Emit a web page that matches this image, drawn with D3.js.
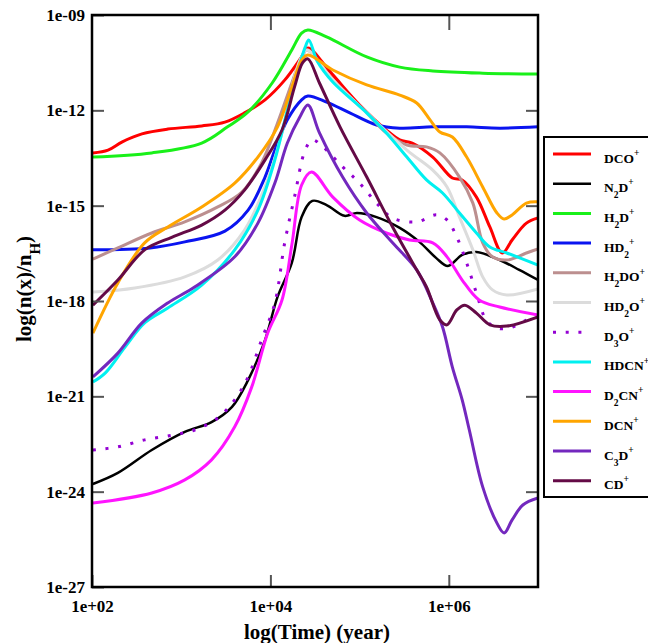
<!DOCTYPE html>
<html lang="en">
<head>
<meta charset="UTF-8">
<title>Deuterated ions vs time</title>
<style>
  body { margin: 0; background: #fff; }
  svg { display: block; font-family: "Liberation Serif", "Times New Roman", serif; font-weight: bold; }
</style>
</head>
<body>
<svg width="648" height="643"></svg>
<script src="https://cdn.jsdelivr.net/npm/d3@7"></script>
<script>
// every point is [log10(time / yr), log10(n(x)/nH)]
const DCO = [[2.01,-13.34],[2.18,-13.25],[2.34,-12.99],[2.56,-12.74],[2.85,-12.59],[3.23,-12.49],[3.49,-12.37],
  [3.71,-12.08],[3.94,-11.67],[4.16,-11.05],[4.35,-10.32],[4.42,-10.04],[4.67,-10.79],[5.00,-11.83],[5.30,-12.62],
  [5.45,-12.93],[5.59,-13.03],[5.82,-13.47],[6.04,-14.13],[6.15,-14.19],[6.31,-14.73],[6.46,-15.67],[6.60,-16.49],
  [6.71,-16.08],[6.87,-15.55],[7.00,-15.39]];
const N2D = [[2.01,-23.76],[2.29,-23.41],[2.67,-22.69],[3.04,-22.12],[3.34,-21.81],[3.57,-21.33],[3.75,-20.49],
  [3.94,-19.23],[4.08,-17.87],[4.24,-16.80],[4.35,-15.36],[4.47,-14.85],[4.63,-14.98],[4.83,-15.32],[4.97,-15.23],
  [5.19,-15.36],[5.45,-15.70],[5.67,-16.14],[5.86,-16.65],[5.99,-16.90],[6.15,-16.55],[6.31,-16.46],[6.57,-16.71],
  [6.79,-17.02],[7.00,-17.34]];
const H2D = [[2.01,-13.47],[2.67,-13.34],[3.23,-13.03],[3.52,-12.52],[3.75,-12.05],[4.02,-11.14],[4.24,-10.10],
  [4.35,-9.57],[4.42,-9.47],[4.63,-9.69],[5.08,-10.32],[5.45,-10.64],[5.82,-10.76],[6.38,-10.83],[7.00,-10.86]];
const HD2 = [[2.01,-16.39],[2.65,-16.33],[3.04,-16.14],[3.49,-15.80],[3.75,-15.14],[3.94,-14.10],[4.05,-13.25],
  [4.19,-12.30],[4.35,-11.67],[4.42,-11.55],[4.63,-11.74],[4.89,-12.08],[5.19,-12.46],[5.45,-12.56],[5.82,-12.52],
  [6.20,-12.52],[6.57,-12.56],[7.00,-12.52]];
const H2DO = [[2.01,-16.68],[2.29,-16.33],[2.67,-15.86],[3.04,-15.51],[3.41,-15.04],[3.68,-14.57],[3.90,-13.66],
  [4.08,-12.40],[4.24,-11.14],[4.35,-10.32],[4.41,-10.10],[4.70,-11.05],[5.08,-12.08],[5.30,-12.71],[5.53,-13.09],
  [5.75,-13.15],[5.90,-13.34],[6.12,-14.10],[6.27,-14.92],[6.38,-16.17],[6.49,-16.61],[6.65,-16.71],[6.87,-16.49],
  [7.00,-16.36]];
const HD2O = [[2.01,-17.72],[2.48,-17.59],[3.04,-17.24],[3.41,-16.71],[3.71,-15.77],[3.94,-14.41],[4.13,-12.71],
  [4.27,-10.95],[4.35,-10.32],[4.41,-10.10],[4.70,-11.05],[5.08,-12.08],[5.53,-13.25],[5.82,-13.88],[5.98,-14.41],
  [6.12,-15.36],[6.27,-16.39],[6.38,-17.24],[6.49,-17.65],[6.65,-17.81],[7.00,-17.62]];
const D3O = [[2.01,-22.69],[2.29,-22.59],[2.59,-22.37],[2.90,-22.22],[3.15,-22.06],[3.41,-21.68],[3.60,-21.11],
  [3.75,-20.39],[3.90,-19.23],[4.05,-18.06],[4.16,-16.17],[4.27,-14.73],[4.39,-13.25],[4.47,-12.93],[4.59,-13.15],
  [4.81,-13.78],[5.00,-14.29],[5.19,-14.92],[5.37,-15.39],[5.64,-15.51],[5.86,-15.29],[5.98,-15.45],[6.09,-15.99],
  [6.20,-16.80],[6.31,-17.75],[6.42,-18.60],[6.54,-18.85],[6.68,-18.85],[6.87,-18.60],[7.00,-18.44]];
const HDCN = [[2.01,-20.55],[2.15,-20.26],[2.37,-19.45],[2.59,-18.69],[2.85,-18.22],[3.23,-17.50],[3.60,-16.39],
  [3.86,-15.14],[4.05,-13.56],[4.19,-11.99],[4.31,-10.73],[4.39,-10.01],[4.43,-9.79],[4.53,-10.48],[4.70,-11.11],
  [5.08,-12.08],[5.30,-12.71],[5.53,-13.47],[5.75,-14.19],[5.93,-14.60],[6.12,-15.23],[6.31,-15.86],[6.46,-16.30],
  [6.65,-16.49],[7.00,-16.87]];
const D2CN = [[2.01,-24.36],[2.67,-24.04],[3.04,-23.63],[3.34,-23.00],[3.60,-21.96],[3.79,-20.71],[3.97,-19.01],
  [4.13,-17.97],[4.24,-16.24],[4.35,-14.35],[4.46,-13.94],[4.70,-14.73],[5.00,-15.45],[5.30,-15.86],[5.56,-16.08],
  [5.82,-16.17],[5.98,-16.61],[6.15,-17.34],[6.34,-17.97],[6.57,-18.19],[7.00,-18.44]];
const DCN = [[2.01,-19.01],[2.29,-17.43],[2.59,-16.17],[2.85,-15.67],[3.23,-15.04],[3.60,-14.29],[3.86,-13.47],
  [4.08,-12.52],[4.24,-11.27],[4.35,-10.42],[4.42,-10.26],[4.70,-10.73],[5.08,-11.20],[5.45,-11.52],[5.64,-11.77],
  [5.79,-12.30],[5.90,-12.68],[6.04,-12.84],[6.20,-13.47],[6.38,-14.41],[6.54,-15.23],[6.62,-15.42],[6.71,-15.29],
  [6.87,-14.92],[7.00,-14.88]];
const C3D = [[2.01,-20.39],[2.29,-19.64],[2.56,-18.69],[2.85,-18.06],[3.15,-17.56],[3.60,-16.61],[3.86,-15.55],
  [4.05,-14.29],[4.19,-13.03],[4.33,-12.21],[4.42,-11.83],[4.55,-12.71],[4.81,-14.10],[5.08,-15.23],[5.37,-16.17],
  [5.64,-17.02],[5.82,-18.06],[5.93,-18.82],[6.04,-20.08],[6.15,-21.11],[6.23,-22.06],[6.38,-23.85],[6.54,-24.99],
  [6.62,-25.30],[6.71,-24.89],[6.83,-24.42],[7.00,-24.20]];
const CD = [[2.01,-18.13],[2.29,-17.34],[2.59,-16.39],[2.90,-15.99],[3.23,-15.61],[3.49,-15.14],[3.71,-14.51],
  [3.94,-13.56],[4.13,-12.62],[4.27,-11.27],[4.36,-10.51],[4.42,-10.38],[4.55,-11.14],[4.78,-12.52],[5.08,-14.10],
  [5.37,-15.67],[5.64,-17.02],[5.75,-17.56],[5.90,-18.60],[5.98,-18.75],[6.09,-18.28],[6.18,-18.13],[6.31,-18.38],
  [6.46,-18.75],[6.65,-18.79],[7.00,-18.50]];

// legend labels: [text, "" | "sub" | "sup"]
const labels = [
  [["DCO",""],["+","sup"]],
  [["N",""],["2","sub"],["D",""],["+","sup"]],
  [["H",""],["2","sub"],["D",""],["+","sup"]],
  [["HD",""],["2","sub"],["+","sup"]],
  [["H",""],["2","sub"],["DO",""],["+","sup"]],
  [["HD",""],["2","sub"],["O",""],["+","sup"]],
  [["D",""],["3","sub"],["O",""],["+","sup"]],
  [["HDCN",""],["+","sup"]],
  [["D",""],["2","sub"],["CN",""],["+","sup"]],
  [["DCN",""],["+","sup"]],
  [["C",""],["3","sub"],["D",""],["+","sup"]],
  [["CD",""],["+","sup"]]
];
const seriesData = [DCO, N2D, H2D, HD2, H2DO, HD2O, D3O, HDCN, D2CN, DCN, C3D, CD];
const xTicks = [1e2, 1e4, 1e6];
const yTicks = [1e-27, 1e-24, 1e-21, 1e-18, 1e-15, 1e-12, 1e-9];

const colors = ["#ff0000", "#000000", "#19f019", "#0a14f0", "#bc8f8f", "#dcdcdc",
  "#9400d3", "#00f0f0", "#ff14ff", "#ffa500", "#7328be", "#640a46"];
const widths = [3, 2.5, 3, 3, 3, 3, 3, 3, 3, 3, 3, 3];

const svg = d3.select("svg");
const L = 92, R = 538, T = 15, B = 587;

const x = d3.scaleLog().domain([1e2, 1e7]).range([L, R]);
const y = d3.scaleLog().domain([1e-27, 1e-9]).range([B, T]);

const expFmt = d => {
  const e = Math.round(Math.log10(d));
  return "1e" + (e < 0 ? "-" : "+") + String(Math.abs(e)).padStart(2, "0");
};

svg.append("clipPath").attr("id", "clip")
  .append("rect").attr("x", L).attr("y", T).attr("width", R - L).attr("height", B - T);

const line = d3.line()
  .x(d => x(10 ** d[0]))
  .y(d => y(10 ** d[1]))
  .curve(d3.curveCatmullRom.alpha(0.5));

svg.append("g").attr("clip-path", "url(#clip)")
  .selectAll("path")
  .data(seriesData)
  .join("path")
  .attr("fill", "none")
  .attr("stroke", (d, i) => colors[i])
  .attr("stroke-width", (d, i) => widths[i])
  .attr("stroke-dasharray", (d, i) => i === 6 ? "3,9.7" : null)
  .attr("stroke-linejoin", "round")
  .attr("d", line);

// axes: ticks point inward, labels only on left and bottom
const styleAxis = g => {
  g.select(".domain").remove();
  g.selectAll(".tick line").attr("stroke", "#555").attr("stroke-width", 2);
  g.selectAll("text").attr("font-family", "Liberation Serif, serif")
    .attr("font-weight", "bold").attr("font-size", 17).attr("fill", "#000");
};

svg.append("g").attr("transform", `translate(${L},0)`)
  .call(d3.axisLeft(y).tickValues(yTicks).tickFormat(expFmt).tickSize(-12).tickPadding(7))
  .call(styleAxis);
svg.append("g").attr("transform", `translate(${R},0)`)
  .call(d3.axisRight(y).tickValues(yTicks.slice(1, -1)).tickFormat("").tickSize(-12))
  .call(styleAxis);
svg.append("g").attr("transform", `translate(0,${B})`)
  .call(d3.axisBottom(x).tickValues(xTicks).tickFormat(expFmt).tickSize(-12).tickPadding(13))
  .call(styleAxis);
svg.append("g").attr("transform", `translate(0,${T})`)
  .call(d3.axisTop(x).tickValues(xTicks.slice(1)).tickFormat("").tickSize(-15))
  .call(styleAxis);

svg.append("rect")
  .attr("x", L).attr("y", T).attr("width", R - L).attr("height", B - T)
  .attr("fill", "none").attr("stroke", "#000").attr("stroke-width", 2.5);

// rich text with sub/superscripts
function richText(sel, parts, size, small) {
  let shift = 0;
  parts.forEach(([t, k]) => {
    const target = k === "sub" ? 0.45 * size : k === "sup" ? -0.5 * size : 0;
    sel.append("tspan")
      .attr("dy", target - shift)
      .attr("font-size", k ? small : size)
      .text(t);
    shift = target;
  });
}

svg.append("text")
  .attr("x", (L + R) / 2 + 2).attr("y", 639)
  .attr("text-anchor", "middle").attr("font-size", 21)
  .text("log(Time) (year)");

svg.append("text")
  .attr("transform", "translate(31,289) rotate(-90)")
  .attr("text-anchor", "middle").attr("font-size", 21)
  .call(s => richText(s, [["log(n(x)/n",""],["H","sub"],[")",""]], 21, 15));

// legend
const leg = svg.append("g");
leg.append("rect")
  .attr("x", 544).attr("y", 137).attr("width", 130).attr("height", 360)
  .attr("fill", "#fff").attr("stroke", "#000").attr("stroke-width", 2);

const row = leg.selectAll("g.row").data(labels).join("g").attr("class", "row")
  .attr("transform", (d, i) => `translate(0,${154 + i * 29.7})`);
row.append("line")
  .attr("x1", 553).attr("x2", 591)
  .attr("stroke", (d, i) => colors[i])
  .attr("stroke-width", (d, i) => widths[i])
  .attr("stroke-dasharray", (d, i) => i === 6 ? "3,9.7" : null);
row.append("text")
  .attr("x", 604).attr("y", 8.5).attr("font-size", 13.5)
  .each(function(d) { richText(d3.select(this), d, 13.5, 9.5); });
</script>
</body>
</html>
